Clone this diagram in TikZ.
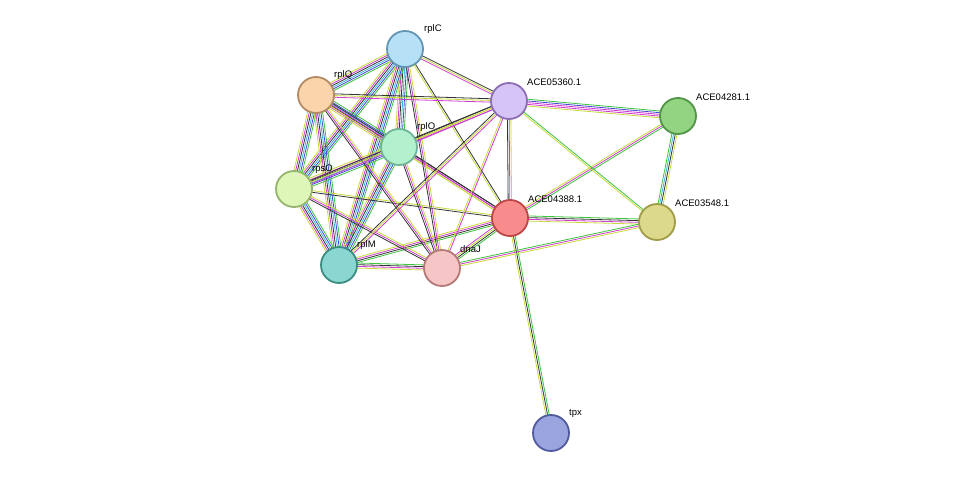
\documentclass[tikz,border=0pt]{standalone}
\usepackage{fontspec}
\setmainfont{Liberation Sans}
\usetikzlibrary{calc,backgrounds}
\definecolor{yl}{HTML}{C8DA3C}
\definecolor{mg}{HTML}{D03CD0}
\definecolor{bk}{HTML}{333333}
\definecolor{gn}{HTML}{3CC43C}
\definecolor{cy}{HTML}{3CB4E0}
\definecolor{bl}{HTML}{4646D8}
\newcommand\edg[3]{%
 \foreach \c [count=\i] in {#3} {\xdef\nn{\i}}%
 \foreach \c [count=\i] in {#3} {\pgfmathsetmacro\o{(\i-(\nn+1)/2)*1.7}%
  \draw[\c,line width=0.8pt] ($(#1)!\o pt!90:(#2)$) -- ($(#2)!\o pt!-90:(#1)$);}}
\tikzset{prot/.style={circle,minimum size=36pt,inner sep=0pt,line width=1.8pt},
 lab/.style={font=\fontsize{9.5pt}{10pt}\selectfont,anchor=south west,inner sep=0pt}}
\begin{document}
\begin{tikzpicture}[x=1pt,y=-1pt]
\useasboundingbox (0,0) rectangle (976,479);
\node[prot,fill={rgb,255:red,182;green,224;blue,245},draw={rgb,255:red,100;green,150;blue,180}] (rplC) at (405,49) {};
\node[prot,fill={rgb,255:red,250;green,212;blue,170},draw={rgb,255:red,180;green,140;blue,100}] (rplQ) at (316,95) {};
\node[prot,fill={rgb,255:red,214;green,196;blue,247},draw={rgb,255:red,140;green,110;blue,180}] (a5360) at (509,101) {};
\node[prot,fill={rgb,255:red,146;green,212;blue,130},draw={rgb,255:red,80;green,150;blue,70}] (a4281) at (678,116) {};
\node[prot,fill={rgb,255:red,178;green,240;blue,206},draw={rgb,255:red,110;green,180;blue,150}] (rplO) at (399,147) {};
\node[prot,fill={rgb,255:red,222;green,246;blue,184},draw={rgb,255:red,150;green,180;blue,110}] (rpsO) at (294,189) {};
\node[prot,fill={rgb,255:red,248;green,140;blue,140},draw={rgb,255:red,190;green,70;blue,70}] (a4388) at (510,218) {};
\node[prot,fill={rgb,255:red,220;green,216;blue,140},draw={rgb,255:red,160;green,155;blue,70}] (a3548) at (657,222) {};
\node[prot,fill={rgb,255:red,138;green,214;blue,208},draw={rgb,255:red,60;green,140;blue,130}] (rplM) at (339,265) {};
\node[prot,fill={rgb,255:red,246;green,198;blue,198},draw={rgb,255:red,180;green,120;blue,120}] (dnaJ) at (442,268) {};
\node[prot,fill={rgb,255:red,154;green,164;blue,222},draw={rgb,255:red,80;green,90;blue,160}] (tpx) at (551,433) {};
\begin{scope}[on background layer]
\foreach \a/\b in {rplC/rplQ,rplC/rplO,rplC/rpsO,rplC/rplM,rplQ/rplO,rplQ/rpsO,rplQ/rplM,rplO/rpsO,rplO/rplM,rpsO/rplM}
 {\edg{\a}{\b}{yl,mg,bk,cy,bl,gn}}
\edg{a5360}{a4281}{yl,mg,mg,bl,gn}
\edg{a4281}{a3548}{gn,cy,bk,yl}
\edg{a4281}{a4388}{yl,mg,gn}
\edg{a5360}{a3548}{yl,gn}
\edg{a4388}{a3548}{yl,mg,bk,gn}
\edg{a4388}{tpx}{yl,bk,gn}
\edg{a4388}{a5360}{yl,mg,bk}
\edg{a4388}{dnaJ}{mg,yl,bk,gn}
\edg{a4388}{rplM}{yl,mg,bk,gn}
\edg{a4388}{rplO}{bk,mg,yl}
\edg{a4388}{rplQ}{bk,mg,yl}
\edg{a4388}{rpsO}{yl,bk}
\edg{a4388}{rplC}{bk,yl}
\edg{dnaJ}{a3548}{yl,mg,gn}
\edg{dnaJ}{rplM}{gn,bk,mg,yl}
\foreach \n in {rpsO,rplQ,rplC,rplO} {\edg{dnaJ}{\n}{yl,mg,bk}}
\edg{dnaJ}{a5360}{mg,yl}
\foreach \n in {rplC,rplQ,rplO,rpsO,rplM} {\edg{a5360}{\n}{bk,yl,mg}}
\end{scope}
\node[lab] (lrplC) at (424,34) {rplC};
\node[lab] (lrplQ) at (334,80) {rplQ};
\node[lab] (l5360) at (527,86) {ACE05360.1};
\node[lab] (l4281) at (696,101) {ACE04281.1};
\node[lab] (lrplO) at (417,132) {rplO};
\node[lab] (lrpsO) at (312,174) {rpsO};
\node[lab] (l4388) at (528,203) {ACE04388.1};
\node[lab] (l3548) at (675,207) {ACE03548.1};
\node[lab] (lrplM) at (357,250) {rplM};
\node[lab] (ldnaJ) at (460,253) {dnaJ};
\node[lab] (ltpx) at (569,418) {tpx};
\end{tikzpicture}
\end{document}
